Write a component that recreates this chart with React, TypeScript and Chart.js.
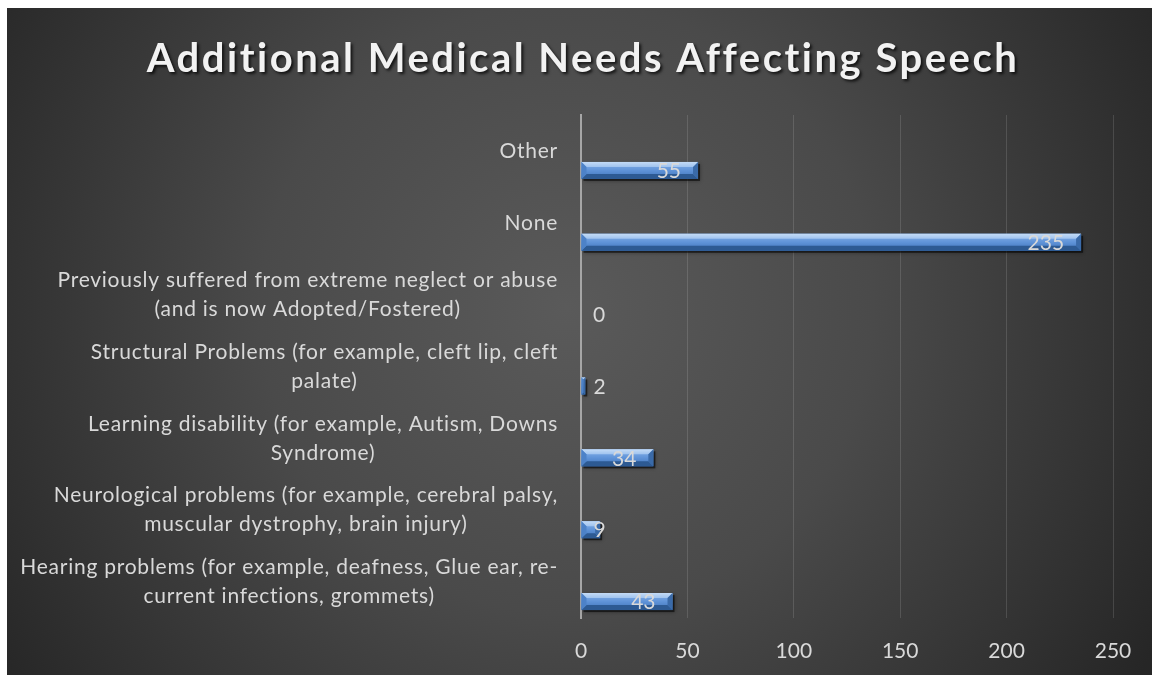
import React, { useEffect, useRef } from "react";
import { Chart, registerables } from "chart.js";

Chart.register(...registerables);

const chartTitle = "Additional Medical Needs Affecting Speech";

const categories: string[][] = [
  ["Other"],
  ["None"],
  ["Previously suffered from extreme neglect or abuse", "(and is now Adopted/Fostered)"],
  ["Structural Problems (for example, cleft lip, cleft", "palate)"],
  ["Learning disability (for example, Autism, Downs", "Syndrome)"],
  ["Neurological problems (for example, cerebral palsy,", "muscular dystrophy, brain injury)"],
  ["Hearing problems (for example, deafness, Glue ear, re-", "current infections, grommets)"],
];

const counts: number[] = [55, 235, 0, 2, 34, 9, 43];

const xTickValues: number[] = [0, 50, 100, 150, 200, 250];

const FONT = "Lato, 'Open Sans', sans-serif";
const TEXT_COLOR = "#d9d9d9";
const CANVAS_W = 1160;
const CANVAS_H = 680;

const backgroundPlugin = {
  id: "bgGradient",
  beforeDraw(chart: any) {
    const { ctx, width, height } = chart;
    ctx.save();
    const g = ctx.createRadialGradient(560, 300, 0, 560, 300, 680);
    g.addColorStop(0, "#5a5a5a");
    g.addColorStop(0.45, "#4a4a4a");
    g.addColorStop(1, "#262626");
    ctx.fillStyle = g;
    ctx.fillRect(0, 0, width, height);
    ctx.restore();
  },
};

const titlePlugin = {
  id: "fancyTitle",
  afterDraw(chart: any) {
    const { ctx } = chart;
    ctx.save();
    ctx.font = `bold 40px ${FONT}`;
    (ctx as any).letterSpacing = "2.5px";
    ctx.textAlign = "center";
    ctx.textBaseline = "middle";
    ctx.shadowColor = "rgba(0,0,0,0.75)";
    ctx.shadowOffsetX = 2;
    ctx.shadowOffsetY = 2;
    ctx.shadowBlur = 3;
    ctx.fillStyle = "#f2f2f2";
    ctx.fillText(chartTitle, 576, 51);
    ctx.restore();
  },
};

const categoryLabelPlugin = {
  id: "categoryLabels",
  afterDraw(chart: any) {
    const { ctx } = chart;
    const yScale = chart.scales.y;
    const rightEdge = chart.chartArea.left - 23;
    const lineH = 29;
    ctx.save();
    ctx.font = `21px ${FONT}`;
    (ctx as any).letterSpacing = "0.75px";
    ctx.fillStyle = TEXT_COLOR;
    ctx.textAlign = "center";
    ctx.textBaseline = "middle";
    categories.forEach((lines, i) => {
      const yc = yScale.getPixelForValue(i);
      const blockW = Math.max(...lines.map((l) => ctx.measureText(l).width));
      const cx = rightEdge - blockW / 2;
      const start = yc - ((lines.length - 1) * lineH) / 2;
      lines.forEach((l, j) => ctx.fillText(l, cx, start + j * lineH));
    });
    ctx.restore();
  },
};

const bevelBarPlugin = {
  id: "bevelBars",
  afterDatasetsDraw(chart: any) {
    const { ctx } = chart;
    const meta = chart.getDatasetMeta(1);
    ctx.save();
    meta.data.forEach((el: any) => {
      const { x, y, base, height } = el.getProps(["x", "y", "base", "height"], true);
      const left = Math.min(base, x);
      const right = Math.max(base, x);
      const top = y - height / 2;
      const bottom = y + height / 2;
      const w = right - left;
      if (w <= 0.5) return;
      const b = Math.min(5, w / 2, height / 3);
      ctx.save();
      ctx.fillStyle = "rgba(0,0,0,0.55)";
      ctx.shadowColor = "rgba(0,0,0,0.6)";
      ctx.shadowBlur = 4;
      ctx.fillRect(left + 2, top + 2, w, height);
      ctx.restore();
      const fg = ctx.createLinearGradient(0, top, 0, bottom);
      fg.addColorStop(0, "#8ab4ea");
      fg.addColorStop(0.5, "#5f93d8");
      fg.addColorStop(1, "#3f73b8");
      ctx.fillStyle = fg;
      ctx.fillRect(left, top, w, height);
      const poly = (pts: number[][], color: any) => {
        ctx.beginPath();
        ctx.moveTo(pts[0][0], pts[0][1]);
        for (let k = 1; k < pts.length; k++) ctx.lineTo(pts[k][0], pts[k][1]);
        ctx.closePath();
        ctx.fillStyle = color;
        ctx.fill();
      };
      const tg = ctx.createLinearGradient(0, top, 0, top + b);
      tg.addColorStop(0, "#c4dbf6");
      tg.addColorStop(1, "#9fc3ef");
      poly([[left, top], [right, top], [right - b, top + b], [left + b, top + b]], tg);
      poly([[left, bottom], [right, bottom], [right - b, bottom - b], [left + b, bottom - b]], "#2d5a93");
      poly([[left, top], [left + b, top + b], [left + b, bottom - b], [left, bottom]], "#4d82c8");
      poly([[right, top], [right, bottom], [right - b, bottom - b], [right - b, top + b]], "#3a6aa8");
    });
    ctx.restore();
  },
};

const valueLabelPlugin = {
  id: "valueLabels",
  afterDatasetsDraw(chart: any) {
    const { ctx } = chart;
    const meta = chart.getDatasetMeta(1);
    ctx.save();
    ctx.font = `21px ${FONT}`;
    ctx.fillStyle = TEXT_COLOR;
    ctx.textBaseline = "middle";
    ctx.textAlign = "left";
    meta.data.forEach((el: any, i: number) => {
      const { x, y, base } = el.getProps(["x", "y", "base"], true);
      const text = String(counts[i]);
      const tw = ctx.measureText(text).width;
      let lx = x - 17 - tw;
      if (lx < base + 12) lx = base + 12;
      ctx.fillText(text, lx, y + 1);
    });
    ctx.restore();
  },
};

export default function App() {
  const canvasRef = useRef<HTMLCanvasElement | null>(null);

  useEffect(() => {
    const canvas = canvasRef.current;
    if (!canvas) return;
    const chart = new Chart(canvas, {
      type: "bar",
      data: {
        labels: categories,
        datasets: [
          {
            label: "spacer",
            data: [],
            backgroundColor: "rgba(0,0,0,0)",
          },
          {
            label: "Count",
            data: counts,
            backgroundColor: "#4f81bd",
            borderWidth: 0,
          },
        ],
      },
      options: {
        indexAxis: "y",
        responsive: false,
        animation: false,
        devicePixelRatio: 1,
        categoryPercentage: 1.0855,
        barPercentage: 0.436,
        layout: { padding: { top: 107, right: CANVAS_W - 1106, bottom: CANVAS_H - 610 - 44, left: 0 } },
        plugins: {
          legend: { display: false },
          tooltip: { enabled: false },
          title: { display: false },
        },
        scales: {
          x: {
            type: "linear",
            min: 0,
            max: 250,
            afterBuildTicks: (scale: any) => {
              scale.ticks = xTickValues.map((v) => ({ value: v }));
            },
            afterFit: (scale: any) => {
              scale.height = 44;
            },
            grid: {
              color: "rgba(255,255,255,0.13)",
              lineWidth: 1,
              drawTicks: false,
            },
            border: { display: false },
            ticks: {
              color: TEXT_COLOR,
              font: { family: FONT, size: 21 },
              padding: 21,
            },
          },
          y: {
            type: "category",
            offset: true,
            grid: { display: false },
            border: { display: true, color: "#a6a6a6", width: 2 },
            ticks: { display: false },
            afterFit: (scale: any) => {
              scale.width = 574;
            },
          },
        },
      },
      plugins: [backgroundPlugin, bevelBarPlugin, valueLabelPlugin, categoryLabelPlugin, titlePlugin],
    } as any);
    return () => chart.destroy();
  }, []);

  return (
    <div style={{ position: "fixed", left: 7, top: 8, width: CANVAS_W, height: CANVAS_H, overflow: "hidden" }}>
      <canvas ref={canvasRef} width={CANVAS_W} height={CANVAS_H} style={{ display: "block" }} />
    </div>
  );
}
